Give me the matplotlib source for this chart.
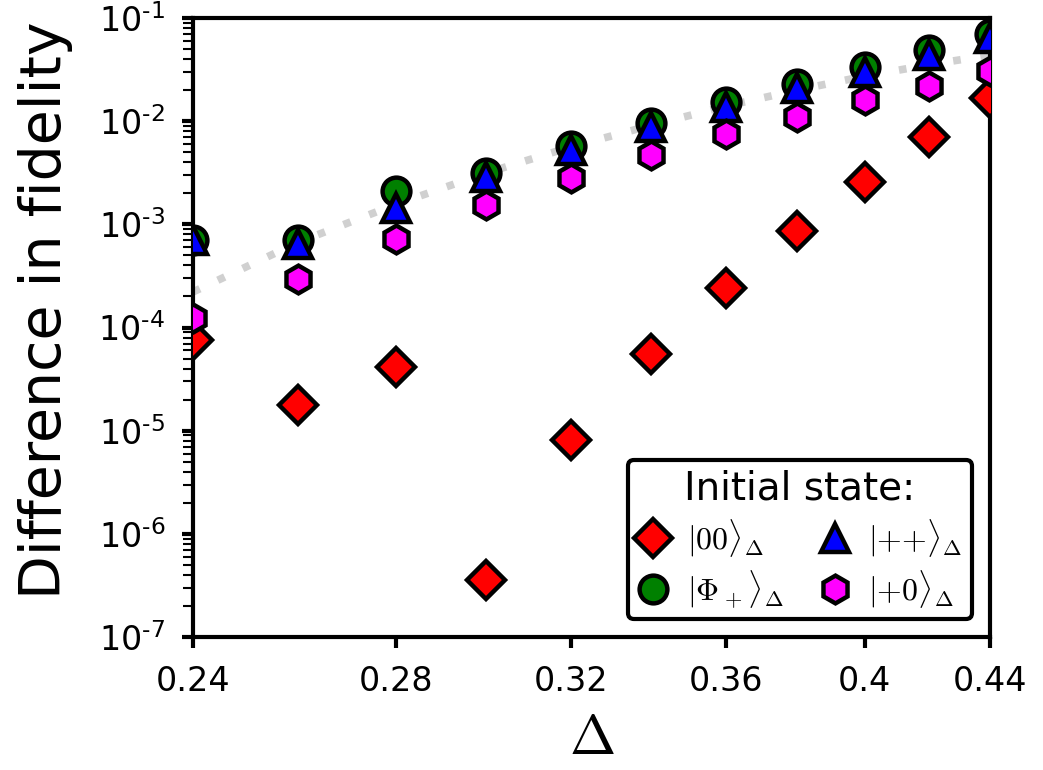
import numpy as np
import matplotlib
matplotlib.use("Agg")
import matplotlib.pyplot as plt
from matplotlib.ticker import FixedLocator, NullLocator, LogLocator, NullFormatter

plt.rcParams["mathtext.fontset"] = "cm"

# Delta values (same for all series)
delta = [0.24, 0.26, 0.28, 0.30, 0.32, 0.34, 0.36, 0.38, 0.40, 0.42, 0.44]

# difference in fidelity
diff_00 = [7.6e-5, 1.78e-5, 4.1e-5, 3.6e-7, 8.1e-6, 5.5e-5, 2.4e-4, 8.6e-4, 2.6e-3, 7.0e-3, 1.68e-2]
diff_phi = [7.1e-4, 7.0e-4, 2.1e-3, 3.15e-3, 5.75e-3, 9.6e-3, 1.53e-2, 2.3e-2, 3.35e-2, 4.9e-2, 7.0e-2]
diff_pp = [7.0e-4, 6.5e-4, 1.45e-3, 2.9e-3, 5.2e-3, 8.7e-3, 1.38e-2, 2.1e-2, 3.0e-2, 4.4e-2, 6.4e-2]
diff_p0 = [1.24e-4, 2.96e-4, 7.2e-4, 1.54e-3, 2.8e-3, 4.7e-3, 7.5e-3, 1.1e-2, 1.6e-2, 2.2e-2, 3.06e-2]

# grey dotted guide curve
guide = [2.21e-4, 6.7e-4, 1.56e-3, 3.15e-3, 5.65e-3, 9.1e-3, 1.40e-2, 2.0e-2, 2.73e-2, 3.52e-2, 4.37e-2]

xtick_vals = [0.24, 0.28, 0.32, 0.36, 0.40, 0.44]
xtick_labels = ["0.24", "0.28", "0.32", "0.36", "0.4", "0.44"]
ytick_vals = [1e-7, 1e-6, 1e-5, 1e-4, 1e-3, 1e-2, 1e-1]
ytick_labels = ["$\\mathregular{10^{\u2010%d}}$" % k for k in [7, 6, 5, 4, 3, 2, 1]]

fig = plt.figure(figsize=(10.43, 7.70), dpi=100)
ax = fig.add_axes([0.185, 0.1727, 0.764, 0.8039])

ax.plot(delta, guide, color="#d0d0d0", lw=5.5, ls=(0, (1, 2.6)), zorder=1)

mk = dict(ls="none", mec="black", mew=3.2, zorder=3)
ax.plot(delta, diff_00, marker="D", mfc="red", ms=19, label=r"$|00\rangle_\Delta$", **mk)
ax.plot(delta, diff_phi, marker="o", mfc="green", ms=20, label=r"$|\Phi_+\rangle_\Delta$", **mk)
ax.plot(delta, diff_pp, marker="^", mfc="blue", ms=20, label=r"$|{+}{+}\rangle_\Delta$", **mk)
ax.plot(delta, diff_p0, marker="h", mfc="magenta", ms=20, label=r"$|{+}0\rangle_\Delta$", **mk)

ax.set_xscale("log")
ax.set_yscale("log")
ax.set_xlim(0.24, 0.44)
ax.set_ylim(1e-7, 1e-1)

ax.xaxis.set_major_locator(FixedLocator(xtick_vals))
ax.xaxis.set_minor_locator(NullLocator())
ax.set_xticklabels(xtick_labels)
ax.yaxis.set_major_locator(FixedLocator(ytick_vals))
ax.set_yticklabels(ytick_labels)
ax.yaxis.set_minor_locator(LogLocator(base=10, subs=np.arange(2, 10), numticks=100))
ax.yaxis.set_minor_formatter(NullFormatter())

for s in ax.spines.values():
    s.set_linewidth(3)
ax.tick_params(which="major", length=8, width=3, labelsize=24, pad=12)
ax.tick_params(which="minor", length=7, width=1.5)

ax.set_xlabel(r"$\Delta$", fontsize=40, labelpad=10)
ax.set_ylabel("Difference in fidelity", fontsize=41)
ax.yaxis.set_label_coords(-0.150, 0.528)

leg = ax.legend(loc="lower right", ncol=2, fontsize=23, title="Initial state:",
                title_fontsize=28, frameon=True, fancybox=True, framealpha=1,
                handlelength=1.0, handletextpad=0.55, columnspacing=1.1,
                borderpad=0.3, labelspacing=0.3, borderaxespad=0.55)
leg.get_frame().set_edgecolor("black")
leg.get_frame().set_linewidth(3)

fig.savefig("out.png", dpi=100)
